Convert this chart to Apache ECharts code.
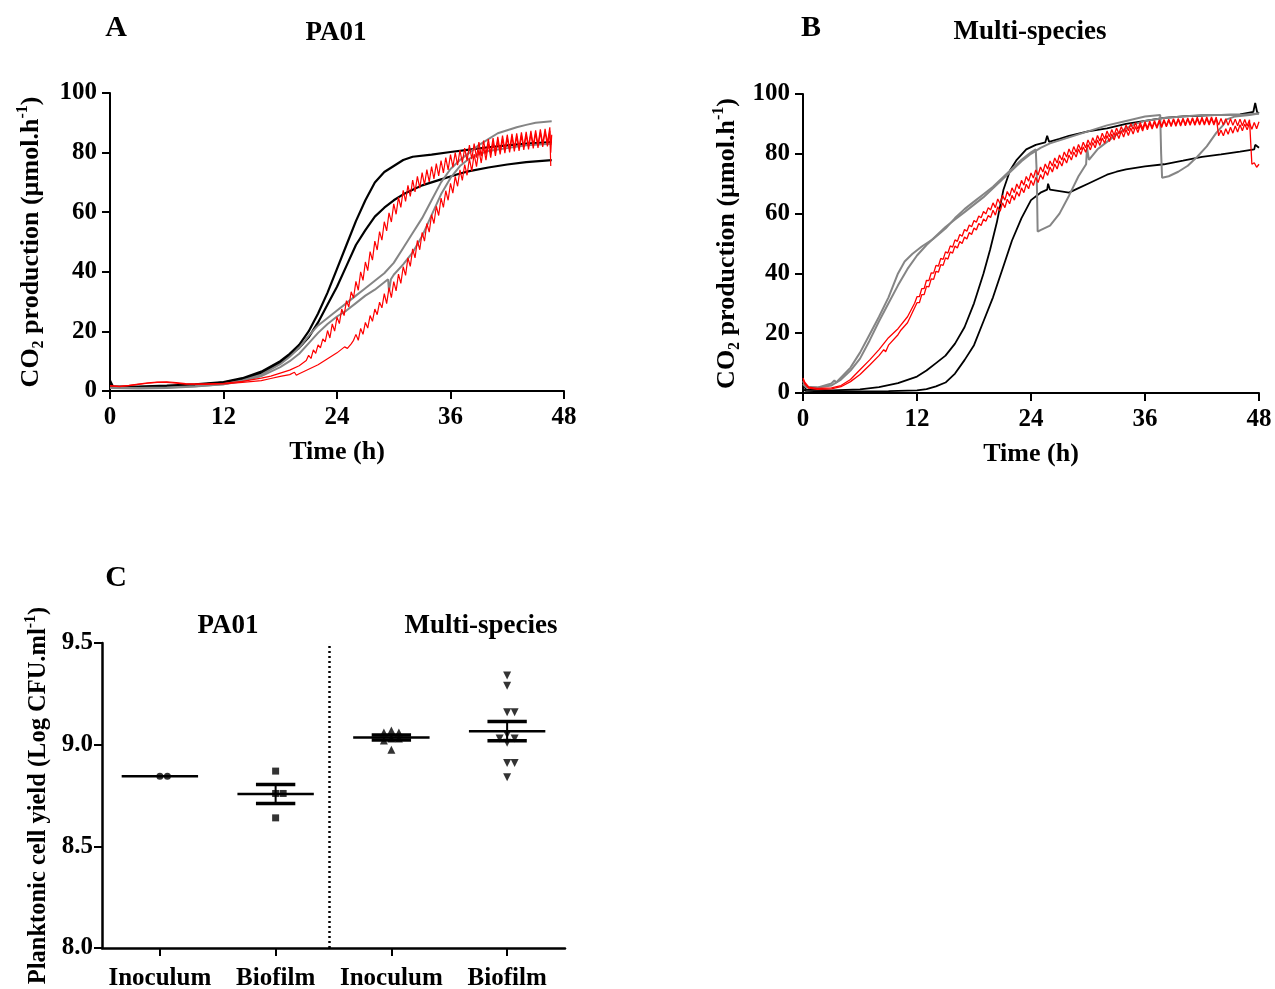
<!DOCTYPE html>
<html>
<head>
<meta charset="utf-8">
<script src="https://cdn.jsdelivr.net/npm/echarts@6/dist/echarts.min.js"></script>
<style>
  html, body { margin: 0; padding: 0; background: #fff; }
  #chart { width: 1275px; height: 989px; }
</style>
</head>
<body>
<div id="chart"></div>
<script>
// ---------- Panel A: PA01, CO2 production (umol/h) vs time (h) ----------
const blackA1 = [[0,3.5],[0.3,1.6],[3,1.5],[6,1.8],[9,2.2],[12,3],[14,4.3],[16,6.5],[18,10],[19,12.5],[20,15.5],[21,20],[22,26],[23,33],[24,41],[25,49],[26,57],[27,64],[28,70],[29,73.5],[30,75.5],[31,77.5],[32,78.6],[34,79.3],[36,80.2],[38,81],[40,81.8],[42,82.4],[44,83],[46.7,83.5]];
const blackA2 = [[0,2.5],[0.3,1.4],[3,1.3],[6,1.5],[9,2],[12,2.8],[14,4],[16,6],[18,9.5],[19,12],[20,14.5],[21,18],[22,23],[23,29],[24,35],[25,42],[26,49],[27,54],[28,58.5],[29,61.5],[30,64],[31,66],[32,67.5],[33,69],[34,70],[35,71],[36,72],[37,73],[38,73.8],[40,75],[42,76],[44,76.8],[46.7,77.5]];
const grayA1 = [[0,1],[3,0.8],[6,1],[9,1.5],[12,2.3],[14,3.5],[16,5.5],[18,9],[19,11.5],[20,14.5],[21,18.5],[22,22],[23,24.5],[24,27],[25,29.5],[26,32],[27,34.5],[28,37],[29,39.5],[30,43],[31,48],[32,53],[33,58],[34,64],[35,70],[36,74.5],[37,77.5],[38,80],[39,82.5],[40,84.5],[41,86.5],[42,87.5],[43,88.5],[44,89.3],[45,90],[46.7,90.5]];
const grayA2 = [[0,1.2],[3,1],[6,1.2],[9,1.6],[12,2.3],[14,3.3],[16,5],[18,8],[19,10],[20,12.5],[21,16],[22,19.5],[23,22.5],[24,25],[25,27],[26,29.5],[27,32],[28,34],[29,36.5],[29.4,37.5],[29.5,33.5],[29.7,37.5],[30,39],[31,42.5],[32,46.5],[33,52],[34,59],[35,66],[36,71.5],[37,75.5],[38,78],[39,79.5],[40,80.5],[42,81.5],[44,82.5],[46.7,83]];
// red traces: smooth start, then an oscillating stretch sampled every 0.25 h
const redA1Early = [[0,1.8],[1,1.6],[2,1.9],[3,2.3],[4,2.7],[5,3],[6,3.1],[7,2.8],[8,2.5],[10,2.4],[12,2.6],[14,3.2],[16,4.3],[17,5],[18,6],[19,7],[20,8.5],[20.75,10.2]];
const redA1SawStart = 21;
const redA1Saw = [12,10.9,13.8,12.6,15.5,14.5,17.5,16.5,
  20.3,17.8,22.5,20.1,24.8,22.6,27.5,25.3,30.3,28.2,33.3,31.2,
  36.8,33.8,40,37.1,43.3,40.4,46.8,43.9,50.3,47.3,53.5,50.6,56.8,53.7,59.8,56.7,62.8,59.3,65,61.6,67.3,63.6,69,65.3,70.8,66.8,72,68.1,73.3,69.2,74.3,70.2,75.3,71.2,76.3,72.2,77.3,73.2,78.3,74.2,79.3,75.1,80,75.8,80.8,76.6,81.5,77.3,
  82.5,77.8,83,78.3,83.5,78.8,84,79.3,84.5,79.7,84.9,80.1,85.3,80.5,85.7,80.8,86,81.1,86.3,81.4,86.5,81.6,86.8,81.9,87,82.1,87.3,82.4,87.5,82.6,87.8,82.9,88,83.3,88.5];
const redA1Tail = [[46.6,80],[46.7,86]];
const redA2Early = [[0,1.7],[1,1.5],[2,1.8],[3,2.2],[4,2.6],[5,2.9],[6,2.9],[7,2.6],[8,2.3],[10,2.2],[12,2.4],[14,2.9],[16,3.5],[17,4.2],[18,4.9],[19,5.5],[19.5,6.3],[19.7,5.3],[20,5.8],[21,7.3],[22,8.8],[23,10.8],[24,12.8],[24.8,14.8],[25.1,14.3],[25.5,15.8],[25.75,17]];
const redA2SawStart = 26;
const redA2Saw = [19,17,21,19,23,21.1,25.3,23.4,27.5,25.6,29.8,27.9,
  32.7,29.3,34.7,31.3,36.7,33.6,39.2,36.1,41.7,38.8,44.7,41.8,47.7,44.7,50.5,47.4,53.2,50.3,56.2,53.3,59.2,56.2,62,58.9,64.7,61.6,67.2,64,69.7,66.4,72,68.7,74.2,70.7,76,72.4,
  78,73.8,79.5,75.3,81,76.5,82,77.5,83,78.3,83.6,78.9,84.2,79.4,84.6,79.8,85,80.1,85.3,80.4,85.5,80.6,85.8,80.9,86,81.1,86.3,81.4,86.5,81.6,86.8,81.9,87,82.1,87.3];
const redA2Tail = [[46.6,75.5]];

// ---------- Panel B: multi-species ----------
const blackB1 = [[0,3],[0.3,1.2],[3,0.9],[6,1.2],[8,2],[10,3.3],[12,5.5],[13,7.5],[14,10],[15,12.5],[16,16.5],[17,22],[18,30],[19,40],[19.7,48],[20.4,57],[21.1,68],[21.8,74.5],[22.5,78],[23.5,81.5],[24.5,83],[25.5,83.8],[25.7,86],[25.9,84],[27,85],[28,86],[30,87.5],[32,88.5],[34,90],[36,91],[38,92],[40,92.5],[42,92.8],[44,93],[46,93.2],[47.4,94],[47.6,97],[47.8,94],[48,93.5]];
const blackB2 = [[0,1.2],[0.3,0.7],[3,0.5],[6,0.5],[9,0.6],[12,0.9],[13,1.3],[14,2.2],[15,3.5],[16,6.5],[17,11],[18,16],[19,24],[20,32],[21,41.5],[22,51],[23,58.5],[24,64.5],[25,67],[25.7,68],[25.8,70],[26,68],[27,67.5],[28,67],[29,68.5],[30,70],[31,71.5],[32,73],[33,74],[34,74.8],[36,75.8],[38,76.5],[40,77.7],[42,79],[44,79.8],[46,80.7],[47.5,81.5],[47.6,83],[48,82]];
const grayB1 = [[0,4],[0.3,2],[1.5,1.8],[3,3.2],[3.3,4.2],[3.5,3.5],[5,8.5],[6,13.5],[7,19.5],[8,25.5],[9,32],[10,40],[10.7,44],[11.5,46.5],[12.5,49],[13.7,51.5],[15,55],[16,58.5],[17,61.5],[18,64],[19,66.5],[20,69],[21,72],[22,75],[23,78],[24,80.5],[24.5,81.5],[24.6,74],[24.7,54],[25,54.5],[26,56],[27,60],[28,66],[29,72.5],[29.8,76.5],[29.9,82],[30.1,78],[31,81.5],[32,84],[33,86.5],[34,88.5],[35,90],[36,91],[38,92],[40,92.5],[42,93],[44,93],[46,93],[48,93.5]];
const grayB2 = [[0,3],[0.3,2],[1.5,1.8],[3,2.5],[4,4.5],[5,7.5],[6,11.5],[7,17.5],[8,24],[9,30],[10,36],[11,41.5],[12,46],[13,49.5],[14,52.5],[15,55.5],[16,58],[17,60.5],[18,63],[19,65.5],[20,68.5],[21,71.5],[22,74.5],[23,77.5],[24,80],[25,82],[26,83.5],[28,85.5],[30,87.5],[32,89.5],[34,91],[36,92.5],[37.6,93],[37.7,80],[37.8,72],[38.5,72.5],[39.5,74],[40.5,76],[41.5,79],[42.5,82.5],[43.5,87],[44.2,89.5],[44.6,91.5],[45.5,92.5],[47,93],[48,93.5]];
const redB1Early = [[0,5],[0.2,3.5],[0.6,2],[1.5,1.5],[3,1.7],[4,2.5],[5,4.5],[6,7.8],[7,11],[8,14.5],[9,18.5],[10,21.5],[11,25.5],[11.75,30]];
const redB1SawStart = 12;
const redB1Saw = [32.2,32.2,34.9,34.9,37.7,37.6,40.2,40.1,42.7,42.4,45,44.7,47.2,46.8,49.2,48.8,51.2,50.7,53,52.4,54.7,54.1,56.2,55.6,57.7,57.1,59.2,58.6,60.7,59.9,62,61.2,
  63.6,62,64.9,63.3,66.1,64.5,67.4,65.8,68.6,67,69.9,68.3,71.1,69.5,72.4,70.8,73.6,71.9,74.6,72.9,75.6,73.9,76.6,74.9,77.6,75.9,78.6,76.9,79.6,77.9,80.6,78.9,81.6,79.8,82.4,80.5,83.1,81.3,83.9,82,
  84.6,82.8,85.4,83.5,86.1,84.3,86.9,85,87.6,85.7,88.1,86.2,88.6,86.7,89.1,87.2,89.6,87.7,90.1,88.2,90.4,88.3,90.5,88.4,
  90.7,88.6,90.9,88.8,91.1,89,91.3,89.2,91.5,89.4,91.6,89.5,91.7,89.6,91.8,89.7,91.9,89.8,92,89.9,92.1,89.9,92.2,90,92.2,90,92.3,90.1,92.3,90.1,92.3,
  86,
  87.9,86,88.4,86.5,88.9,86.9,89.3,87.3,89.7,87.7,90,88,90.3,88.2,90.5,88.4,90.7];
const redB2Early = [[0,4.5],[0.2,3],[0.6,1.6],[1.5,1.2],[3,1.4],[4,2.1],[5,3.8],[6,6.2],[7,9.3],[8,12.5],[8.5,14.5],[8.7,13.8],[9,16],[10,19.5],[10.3,21],[10.5,20.5],[11,23.5],[11.75,28.5]];
const redB2SawStart = 12;
const redB2Saw = [30.2,30.2,32.9,32.9,35.7,35.5,38.2,38,40.7,40.4,42.9,42.7,45.2,44.8,47.2,46.8,49.2,48.5,50.7,50,52.2,51.5,53.7,53,55.2,54.5,56.7,56,58.2,57.4,59.4,58.7,
  61.1,59.5,62.3,60.8,63.6,62,64.8,63.3,66.1,64.5,67.3,65.8,68.6,67,69.8,68.3,71.1,69.4,72.1,70.4,73.1,71.5,74.3,72.8,75.6,73.9,76.6,74.9,77.6,75.9,78.6,76.9,79.6,77.9,80.6,78.9,81.6,79.8,82.3,80.5,
  83.1,81.3,83.8,82,84.6,82.8,85.3,83.5,86.1,84.1,86.6,84.6,87.1,85.1,87.6,85.6,88.1,86.1,88.6,86.6,89.1,87.1,89.6,87.6,90.1,88,90.3,88.3,90.6,88.5,90.8,88.8,91.1,89,91.2,89.1,91.4,89.2,91.5,89.3,91.6,89.4,91.6,89.5,91.7,89.5,91.7,89.6,91.8,89.6,91.8,89.6,91.8,89.6,91.8,89.6,91.8,89.6,91.7,89.5,91.7,89.5,91.6,89.4,91.6,89.4,91.5,89.3,91.4,
  76.5,77,75.5,76.5];

// ---------- Panel C: planktonic cell yield (log CFU/ml) ----------
const groupLabels = ['Inoculum', 'Biofilm', 'Inoculum', 'Biofilm'];
const inoculumPA = [8.845, 8.845];
const biofilmPA = [8.87, 8.76, 8.76, 8.64];
const inoculumMS = [9.07, 9.06, 9.06, 9.03, 9.03, 9.02, 8.975];
const biofilmMS = [9.34, 9.29, 9.16, 9.16, 9.05, 9.03, 9.03, 9.01, 8.91, 8.91, 8.84];

// ---------- helpers ----------
const SERIF = "'Liberation Serif', 'Times New Roman', serif";
const sawPairs = (start, step, vals) => vals.map((v, i) => [start + i * step, v]);

// spread coincident points sideways, like a dot plot
function swarm(vals, pos, dyMax, dx) {
  const placed = [];
  const order = [0, 1, -1, 2, -2, 3, -3];
  return vals.map(v => {
    for (const k of order) {
      if (!placed.some(p => p.k === k && Math.abs(p.v - v) < dyMax)) {
        placed.push({ k, v });
        return [pos + k * dx, v];
      }
    }
    return [pos, v];
  });
}
function meanSem(vals) {
  const n = vals.length;
  const m = vals.reduce((a, b) => a + b, 0) / n;
  const sd = n > 1 ? Math.sqrt(vals.reduce((a, b) => a + (b - m) * (b - m), 0) / (n - 1)) : 0;
  return [m, sd / Math.sqrt(n)];
}

const labelStyle = { color: '#000', fontFamily: SERIF, fontWeight: 'bold', fontSize: 25 };
const nameStyle = { color: '#000', fontFamily: SERIF, fontWeight: 'bold', fontSize: 26 };
const makeRich = size => ({
  n: { fontFamily: SERIF, fontWeight: 'bold', fontSize: size, lineHeight: 32, color: '#000' },
  sub: { fontFamily: SERIF, fontWeight: 'bold', fontSize: 16, lineHeight: 16, verticalAlign: 'bottom', color: '#000' },
  sup: { fontFamily: SERIF, fontWeight: 'bold', fontSize: 16, lineHeight: 16, verticalAlign: 'top', color: '#000' }
});
const co2Name = '{n|CO}{sub|2}{n| production (µmol.h}{sup|-1}{n|)}';
const yieldName = '{n|Planktonic cell yield (Log CFU.ml}{sup|-1}{n|)}';

function timeAxis(gridIndex) {
  return {
    gridIndex, type: 'value', min: 0, max: 48, interval: 12,
    axisLine: { lineStyle: { color: '#000', width: 2 } },
    axisTick: { length: 8, lineStyle: { color: '#000', width: 2 } },
    axisLabel: Object.assign({ margin: 14 }, labelStyle),
    splitLine: { show: false },
    name: 'Time (h)', nameLocation: 'middle', nameGap: 48, nameTextStyle: nameStyle
  };
}
function co2Axis(gridIndex, gap) {
  return {
    gridIndex, type: 'value', min: 0, max: 100, interval: 20,
    axisLine: { show: true, lineStyle: { color: '#000', width: 2 } },
    axisTick: { show: true, length: 8, lineStyle: { color: '#000', width: 2 } },
    axisLabel: Object.assign({ margin: 13 }, labelStyle),
    splitLine: { show: false },
    name: co2Name, nameLocation: 'middle', nameGap: gap, nameRotate: 90,
    nameTextStyle: Object.assign({ rich: makeRich(26) }, nameStyle)
  };
}
function trace(data, color, width, axis) {
  return {
    type: 'line', data, xAxisIndex: axis, yAxisIndex: axis,
    showSymbol: false, symbol: 'none', silent: true,
    lineStyle: { color, width }, z: 2
  };
}

const redA1 = redA1Early.concat(sawPairs(redA1SawStart, 0.25, redA1Saw), redA1Tail);
const redA2 = redA2Early.concat(sawPairs(redA2SawStart, 0.25, redA2Saw), redA2Tail);
const redB1 = redB1Early.concat(sawPairs(redB1SawStart, 0.25, redB1Saw));
const redB2 = redB2Early.concat(sawPairs(redB2SawStart, 0.25, redB2Saw));

const GRAY = '#858585', RED = '#ff0000';
const groups = [inoculumPA, biofilmPA, inoculumMS, biofilmMS];
const summary = groups.map((g, i) => [i + 1].concat(meanSem(g)));

const titleText = (x, y, text, size) => ({
  type: 'text', x, y,
  style: { text, font: 'bold ' + size + 'px ' + SERIF, fill: '#000', textAlign: 'center', textVerticalAlign: 'middle' }
});

const chart = echarts.init(document.getElementById('chart'), null, { renderer: 'canvas' });
chart.setOption({
  animation: false,
  backgroundColor: '#fff',
  grid: [
    { left: 110, top: 93, width: 454, height: 298, outerBoundsMode: 'none', containLabel: false },
    { left: 803, top: 94, width: 456, height: 299, outerBoundsMode: 'none', containLabel: false },
    { left: 102, top: 643, width: 463, height: 305, outerBoundsMode: 'none', containLabel: false }
  ],
  xAxis: [
    timeAxis(0),
    timeAxis(1),
    {
      gridIndex: 2, type: 'value', min: 0.5, max: 4.5,
      axisLine: { lineStyle: { color: '#000', width: 2.5 } },
      axisTick: { length: 8, customValues: [1, 2, 3, 4], lineStyle: { color: '#000', width: 2 } },
      axisLabel: Object.assign({ margin: 18, customValues: [1, 2, 3, 4],
        formatter: v => groupLabels[Math.round(v) - 1] }, labelStyle),
      splitLine: { show: false }
    }
  ],
  yAxis: [
    co2Axis(0, 63),
    co2Axis(1, 60),
    {
      gridIndex: 2, type: 'value', min: 8, max: 9.5, interval: 0.5,
      axisLine: { show: true, lineStyle: { color: '#000', width: 2.5 } },
      axisTick: { show: true, length: 8, lineStyle: { color: '#000', width: 2 } },
      axisLabel: Object.assign({ margin: 9, formatter: v => v.toFixed(1) }, labelStyle),
      splitLine: { show: false },
      name: yieldName, nameLocation: 'middle', nameGap: 47, nameRotate: 90,
      nameTextStyle: Object.assign({ rich: makeRich(24.5) }, nameStyle, { fontSize: 24.5 })
    }
  ],
  graphic: [
    titleText(116, 28, 'A', 30),
    titleText(336, 33, 'PA01', 27),
    titleText(811, 28, 'B', 30),
    titleText(1030, 32, 'Multi-species', 27),
    titleText(116, 578, 'C', 30),
    titleText(228, 626, 'PA01', 27),
    titleText(481, 626, 'Multi-species', 27)
  ],
  series: [
    trace(blackA1, '#000', 2.2, 0),
    trace(blackA2, '#000', 2.2, 0),
    trace(grayA1, GRAY, 2, 0),
    trace(grayA2, GRAY, 2, 0),
    trace(redA1, RED, 1.2, 0),
    trace(redA2, RED, 1.2, 0),

    trace(blackB1, '#000', 1.8, 1),
    trace(blackB2, '#000', 1.8, 1),
    trace(grayB1, GRAY, 2, 1),
    trace(grayB2, GRAY, 2, 1),
    trace(redB1, RED, 1.3, 1),
    trace(redB2, RED, 1.3, 1),

    {
      type: 'scatter', xAxisIndex: 2, yAxisIndex: 2, symbol: 'circle', symbolSize: 7,
      itemStyle: { color: '#000' }, data: swarm(inoculumPA, 1, 0.025, 0.065),
      markLine: {
        silent: true, symbol: 'none', label: { show: false },
        lineStyle: { color: '#000', type: [2, 3], width: 2.5 },
        data: [[{ coord: [2.46, 8] }, { coord: [2.46, 9.5] }]]
      }
    },
    { type: 'scatter', xAxisIndex: 2, yAxisIndex: 2, symbol: 'rect', symbolSize: 7,
      itemStyle: { color: '#000' }, data: swarm(biofilmPA, 2, 0.025, 0.065) },
    { type: 'scatter', xAxisIndex: 2, yAxisIndex: 2, symbol: 'triangle', symbolSize: 8,
      itemStyle: { color: '#000' }, data: swarm(inoculumMS, 3, 0.025, 0.065) },
    { type: 'scatter', xAxisIndex: 2, yAxisIndex: 2, symbol: 'triangle', symbolRotate: 180, symbolSize: 8,
      itemStyle: { color: '#000' }, data: swarm(biofilmMS, 4, 0.025, 0.065) },
    {
      type: 'custom', xAxisIndex: 2, yAxisIndex: 2, z: 5, data: summary,
      renderItem: (params, api) => {
        const x = api.value(0), m = api.value(1), s = api.value(2);
        const seg = (x1, y1, x2, y2, w) => {
          const a = api.coord([x1, y1]), b = api.coord([x2, y2]);
          return { type: 'line', shape: { x1: a[0], y1: a[1], x2: b[0], y2: b[1] }, style: { stroke: '#000', lineWidth: w } };
        };
        const kids = [seg(x - 0.33, m, x + 0.33, m, 2.5)];
        if (s > 0) {
          kids.push(seg(x, m - s, x, m + s, 2));
          kids.push(seg(x - 0.17, m + s, x + 0.17, m + s, 3.5));
          kids.push(seg(x - 0.17, m - s, x + 0.17, m - s, 3.5));
        }
        return { type: 'group', children: kids };
      }
    }
  ]
});
</script>
</body>
</html>
